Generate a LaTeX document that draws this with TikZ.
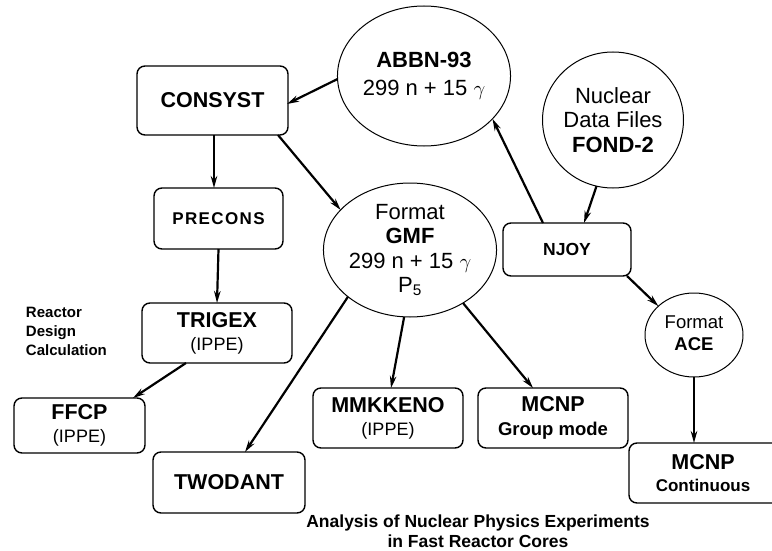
\documentclass[tikz,border=0pt]{standalone}
\usepackage{fontspec}
\setmainfont{Liberation Sans}
\usetikzlibrary{shapes.geometric,arrows.meta,calc}
\newcommand{\fbig}{\fontsize{21.5}{23}\selectfont\bfseries}
\newcommand{\freg}{\fontsize{22}{24.5}\selectfont}
\begin{document}
\begin{tikzpicture}[x=1pt,y=-1pt,
  box/.style={draw,line width=1.4pt,rounded corners=8pt,inner sep=0pt,outer sep=0pt,align=center},
  circ/.style={draw,ellipse,line width=1pt,inner sep=0pt,outer sep=0pt,align=center},
  arr/.style={line width=2.2pt,-{Stealth[length=12pt,width=6.5pt]}},
  lbl/.style={inner sep=0pt,outer sep=0pt}]
\useasboundingbox (0,0) rectangle (772,551);
\clip (0,0) rectangle (772,551);

% boxes
\node[box,minimum width=151pt,minimum height=69pt,font=\fbig] (consyst) at (212.5,100.5) {\raisebox{-4pt}{CONSYST}};
\node[box,minimum width=129pt,minimum height=61pt,font=\fontsize{17}{20}\selectfont\bfseries] (precons) at (218.5,218.5) {\addfontfeature{LetterSpace=8}PRECONS};
\node[box,minimum width=150pt,minimum height=60pt,font=\fontsize{18}{23}\selectfont] (trigex) at (217,333) {{\fbig TRIGEX}\\(IPPE)};
\node[box,minimum width=131pt,minimum height=55pt,font=\fontsize{18}{23}\selectfont] (ffcp) at (79.5,425.5) {{\fbig FFCP}\\(IPPE)};
\node[box,minimum width=152pt,minimum height=61pt,font=\fbig] (twodant) at (229,482.5) {TWODANT};
\node[box,minimum width=150pt,minimum height=60pt,font=\fontsize{18}{23}\selectfont] (mmkkeno) at (388,418) {{\fbig MMKKENO}\\(IPPE)};
\node[box,minimum width=150pt,minimum height=60pt,font=\fontsize{18.5}{24}\selectfont\bfseries] (mcnpg) at (553,418) {{\fbig MCNP}\\Group mode};
\node[box,minimum width=170pt,minimum height=60pt,font=\fontsize{17}{22}\selectfont\bfseries] (mcnpc) at (714,473) {{\fbig MCNP}\hspace*{22pt}\\Continuous\hspace*{22pt}};
\node[box,minimum width=128pt,minimum height=53pt,font=\fontsize{17.5}{20}\selectfont\bfseries] (njoy) at (567,249.5) {NJOY};

% circles
\node[circ,minimum width=158pt,minimum height=140pt,font=\fontsize{22}{28}\selectfont] (abbn) at (424,76) {\textbf{ABBN-93}\\299 n + 15 $\gamma$};
\node[circ,minimum width=141pt,minimum height=136pt,font=\freg] (fond) at (613,120) {Nuclear\\Data Files\\\textbf{FOND-2}};
\node[circ,minimum width=136pt,minimum height=134pt,font=\freg] (gmf) at (410,250) {Format\\\textbf{GMF}\\299 n + 15 $\gamma$\\P\textsubscript{5}};
\node[circ,minimum width=98pt,minimum height=84pt,font=\fontsize{18.5}{22}\selectfont] (ace) at (694,335) {\raisebox{6pt}{\begin{tabular}{@{}c@{}}Format\\\textbf{ACE}\end{tabular}}};

% labels
\node[lbl,anchor=west,align=left,font=\fontsize{15}{19}\selectfont\bfseries] (rdc) at (26,331) {Reactor\\Design\\Calculation};
\node[lbl,align=center,font=\fontsize{17.5}{20}\selectfont\bfseries] (anl) at (478,531) {Analysis of Nuclear Physics Experiments\\in Fast Reactor Cores};

% connectors
\draw[arr] (abbn.182) -- ($(consyst.east)+(-1,3.5)$);
\draw[arr] ($(consyst.south)+(1.5,0)$) -- ($(precons.north)+(-4.5,0)$);
\draw[arr] (precons.south) -- (trigex.north);
\draw[arr] ($(consyst.south east)+(-10,0)$) -- (gmf.150);
\draw[arr] ($(trigex.south)+(-31,0)$) -- ($(ffcp.north east)+(-12,0)$);
\draw[arr] (gmf.217) -- ($(twodant.north)+(16,0)$);
\draw[arr] (gmf.265) -- ($(mmkkeno.north)+(3,0)$);
\draw[arr] (gmf.315) -- ($(mcnpg.north)+(-20,0)$);
\draw[arr] ($(njoy.north)+(-24,0)$) -- (abbn.-32);
\draw[arr] (fond.256) -- ($(njoy.north)+(17,0)$);
\draw[arr] ($(njoy.south east)+(-4,0)$) -- (ace.141);
\draw[arr] (ace.south) -- (ace.south |- mcnpc.north);
\end{tikzpicture}
\end{document}
